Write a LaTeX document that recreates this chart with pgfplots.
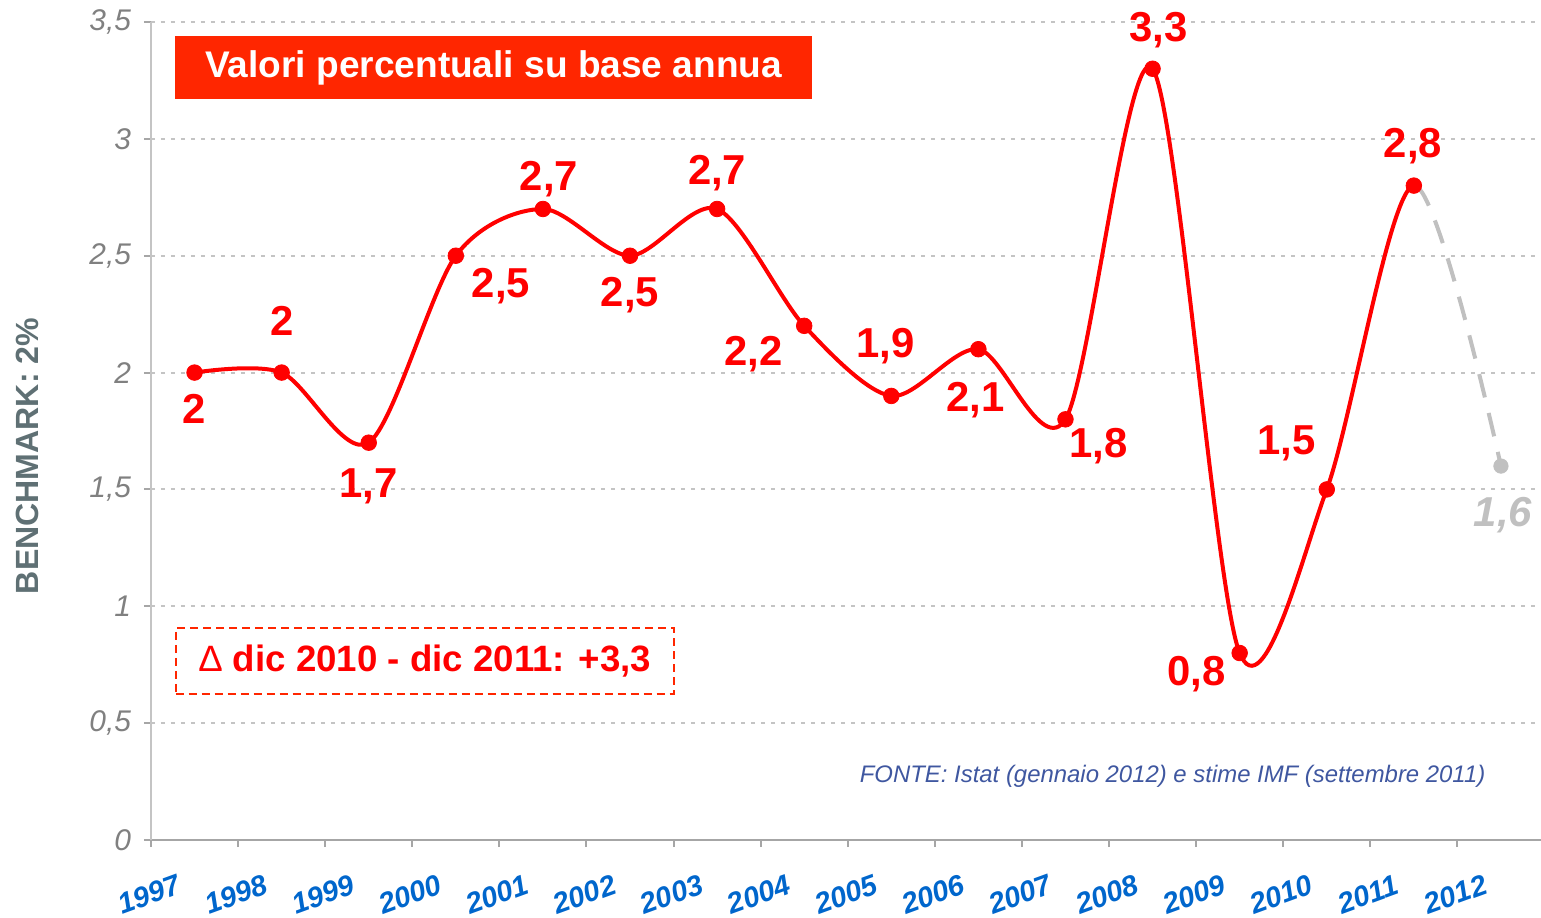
\documentclass[border=0pt]{standalone}
\usepackage{pgfplots}
\pgfplotsset{compat=1.18}
\usepackage{fontspec}
\setmainfont{Liberation Sans}
\definecolor{lred}{HTML}{FF0000}
\definecolor{boxred}{HTML}{FF2600}
\definecolor{tickgray}{HTML}{808080}
\definecolor{gridgray}{HTML}{C4C4C4}
\definecolor{axgray}{HTML}{A6A6A6}
\definecolor{xblue}{HTML}{0066CC}
\definecolor{ylab}{HTML}{5F7074}
\definecolor{src}{HTML}{3F57A0}
\definecolor{fgray}{HTML}{C0C0C0}
\tikzset{lab/.style={text=lred, font=\fontsize{21}{25}\selectfont\bfseries, anchor=base, inner sep=0pt}}
\begin{document}
\begin{tikzpicture}
\begin{axis}[name=ax, scale only axis, width=695bp, height=409bp,
  xmin=0, xmax=15.96, ymin=0, ymax=3.5,
  axis x line=bottom, axis y line=left, axis line style={-},
  x axis line style={draw=axgray, line width=1.3bp},
  y axis line style={draw=gridgray, line width=1.3bp},
  xtick={0,1,2,3,4,5,6,7,8,9,10,11,12,13,14,15},
  xticklabels={1997,1998,1999,2000,2001,2002,2003,2004,2005,2006,2007,2008,2009,2010,2011,2012},
  ytick={0,0.5,1,1.5,2,2.5,3,3.5},
  tick align=outside, major tick length=3.5bp,
  tick style={draw=axgray, line width=1bp},
  ymajorgrids, grid style={draw=gridgray, dash pattern=on 2bp off 3bp, line width=1bp},
  yticklabel style={font=\fontsize{15}{17}\selectfont\itshape, text=tickgray, xshift=-3bp},
  xticklabel style={font=\fontsize{14.5}{17}\selectfont\bfseries\itshape, text=xblue, rotate=20, anchor=center, xshift=-9bp, yshift=-22bp},
  /pgf/number format/use comma, /pgf/number format/assume math mode=true,
  clip=false,
]
\begin{scope}
\clip (axis cs:0,0) rectangle (axis cs:14.5,3.7);
\addplot[lred, line width=2bp, smooth, tension=0.5, forget plot] coordinates {
(0.5,2.0) (1.5,2.0) (2.5,1.7) (3.5,2.5) (4.5,2.7) (5.5,2.5) (6.5,2.7) (7.5,2.2)
(8.5,1.9) (9.5,2.1) (10.5,1.8) (11.5,3.3) (12.5,0.8) (13.5,1.5) (14.5,2.8) (15.5,1.6)};
\end{scope}
\begin{scope}
\clip (axis cs:14.5,0) rectangle (axis cs:16,3.7);
\addplot[fgray, line width=2bp, smooth, tension=0.5, dash pattern=on 12bp off 8bp, forget plot] coordinates {
(13.5,1.5) (14.5,2.8) (15.5,1.6)};
\end{scope}
\addplot[only marks, mark=*, mark size=3.9bp, lred, forget plot] coordinates {
(0.5,2.0) (1.5,2.0) (2.5,1.7) (3.5,2.5) (4.5,2.7) (5.5,2.5) (6.5,2.7) (7.5,2.2)
(8.5,1.9) (9.5,2.1) (10.5,1.8) (11.5,3.3) (12.5,0.8) (13.5,1.5) (14.5,2.8)};
\addplot[only marks, mark=*, mark size=3.6bp, fgray, forget plot] coordinates {(15.5,1.6)};

\node[lab, yshift=-25.5bp] at (axis cs:0.5,2.0) {2};
\node[lab, yshift=18.5bp] at (axis cs:1.5,2.0) {2};
\node[lab, yshift=-27.5bp] at (axis cs:2.5,1.7) {1,7};
\node[lab, xshift=22.5bp, yshift=-21bp] at (axis cs:3.5,2.5) {2,5};
\node[lab, xshift=3bp, yshift=9bp] at (axis cs:4.5,2.7) {2,7};
\node[lab, yshift=-25.5bp] at (axis cs:5.5,2.5) {2,5};
\node[lab, yshift=12bp] at (axis cs:6.5,2.7) {2,7};
\node[lab, xshift=-25.5bp, yshift=-20bp] at (axis cs:7.5,2.2) {2,2};
\node[lab, xshift=-3bp, yshift=19bp] at (axis cs:8.5,1.9) {1,9};
\node[lab, xshift=-1.5bp, yshift=-31bp] at (axis cs:9.5,2.1) {2,1};
\node[lab, xshift=16.5bp, yshift=-19bp] at (axis cs:10.5,1.8) {1,8};
\node[lab, xshift=3bp, yshift=13.5bp] at (axis cs:11.5,3.3) {3,3};
\node[lab, xshift=-21.5bp, yshift=-16bp] at (axis cs:12.5,0.8) {0,8};
\node[lab, xshift=-20bp, yshift=17.5bp] at (axis cs:13.5,1.5) {1,5};
\node[lab, xshift=-0.5bp, yshift=14bp] at (axis cs:14.5,2.8) {2,8};
\node[lab, text=fgray, font=\fontsize{21}{25}\selectfont\bfseries\itshape, xshift=1bp, yshift=-30bp] at (axis cs:15.5,1.6) {1,6};

\node[fill=boxred, text=white, font=\fontsize{18.6}{22}\selectfont\bfseries, minimum width=318.5bp, minimum height=31.5bp, inner sep=0pt] at (axis cs:3.934,3.305) {Valori percentuali su base annua};
\node[draw=boxred, dash pattern=on 4bp off 2.5bp, line width=0.9bp, text=lred, font=\fontsize{18.4}{22}\selectfont\bfseries, minimum width=249bp, minimum height=33bp, inner sep=0pt] at (axis cs:3.143,0.766) {{\mdseries Δ} dic 2010 - dic 2011: +3,3};
\node[anchor=base, font=\fontsize{12}{14}\selectfont\itshape, text=src, inner sep=0pt] at (axis cs:11.73,0.244) {FONTE: Istat (gennaio 2012) e stime IMF (settembre 2011)};
\node[rotate=90, font=\fontsize{16.1}{18}\selectfont\bfseries, text=ylab, inner sep=0pt] at (axis cs:-1.413,1.643) {BENCHMARK: 2\%};
\end{axis}
\pgfresetboundingbox
\path[use as bounding box] ([xshift=-75.5bp,yshift=-39bp]ax.south west) rectangle ([yshift=11bp]ax.north east);
\end{tikzpicture}
\end{document}
